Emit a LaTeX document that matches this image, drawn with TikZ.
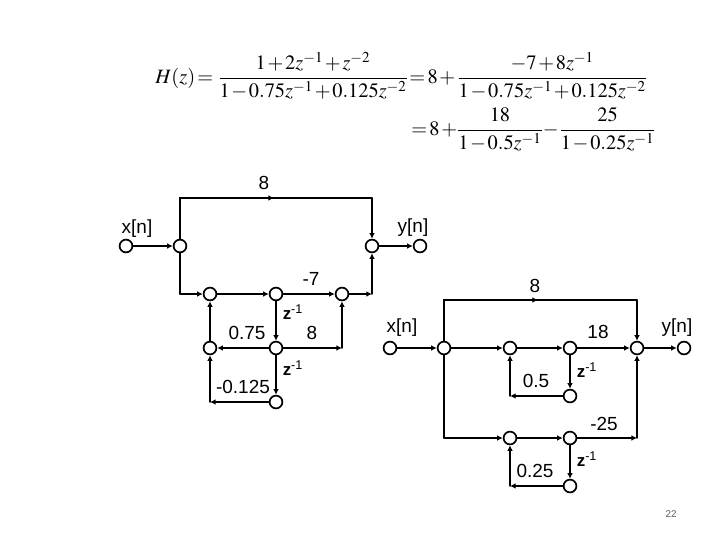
\documentclass[tikz,border=0pt]{standalone}
\usepackage{amsmath,amssymb}
\usepackage{mathptmx}
\usepackage{fontspec}
\setmainfont{Liberation Sans}
\usetikzlibrary{arrows.meta, positioning, calc}
\definecolor{pagenum}{RGB}{90,90,90}
\tikzset{
  sig/.style={circle, draw=black, line width=1.2pt, fill=white, minimum size=0.32cm, inner sep=0pt},
  lbl/.style={inner sep=0pt, yshift=-0.7pt, font=\fontsize{13.5}{15}\selectfont},
  zlbl/.style={inner sep=0pt, font=\fontsize{12}{14}\selectfont},
  eqn/.style={inner sep=0pt, anchor=west, font=\fontsize{14.5}{16}\selectfont},
  flow/.style={line width=1pt, line cap=round, -{Latex[length=4pt,width=4pt]}},
  wire/.style={line width=1pt, line cap=round}
}
\newcommand{\zinv}{{\bfseries z}\textsuperscript{-1}}
\begin{document}
\begin{tikzpicture}[x=0.025cm, y=-0.025cm]
    \useasboundingbox (0,0) rectangle (720,540);
    % equation
    \medmuskip=1.5mu \thickmuskip=2mu
    \node[eqn] (eqa) at (155,75.5)
      {$\displaystyle H(z)=\mkern2mu\frac{1+2z^{-1}+z^{-2}}{1-0.75z^{-1}+0.125z^{-2}}\mkern-1mu=8+\frac{-7+8z^{-1}}{1-0.75z^{-1}+0.125z^{-2}}$};
    \node[eqn] (eqb) at (411,129)
      {$\displaystyle =8+\!\frac{18}{1-0.5z^{-1}}\!-\mkern-1mu\frac{25}{1-0.25z^{-1}}$};
    % left graph
    \node[sig] (xl) at (126,246) {};
    \node[sig] (al) at (180,246) {};
    \node[sig] (yl) at (372,246) {};
    \node[sig] (ol) at (420,246) {};
    \node[sig] (bl) at (210,294) {};
    \node[sig] (cl) at (276,294) {};
    \node[sig] (dl) at (342,294) {};
    \node[sig] (el) at (210,348) {};
    \node[sig] (fl) at (276,348) {};
    \node[sig] (gl) at (276,402) {};
    \coordinate (tla) at (180,198);
    \coordinate (tlb) at (372,198);
    \coordinate (tlm) at (274,198);
    \coordinate (bla) at (180,294);
    \coordinate (blb) at (372,294);
    \coordinate (clb) at (342,348);
    \coordinate (gla) at (210,402);
    \draw[flow] (xl) -- (al);
    \draw[flow] (yl) -- (ol);
    \draw[wire] (al) -- (tla) -- (tlb);
    \draw[flow] (tla) -- (tlm);
    \draw[flow] (tlb) -- (yl);
    \draw[wire] (al) -- (bla);
    \draw[flow] (bla) -- (bl);
    \draw[flow] (bl) -- (cl);
    \draw[flow] (cl) -- (dl);
    \draw[flow] (dl) -- (blb);
    \draw[flow] (blb) -- (yl);
    \draw[flow] (cl) -- (fl);
    \draw[flow] (fl) -- (el);
    \draw[flow] (el) -- (bl);
    \draw[flow] (fl) -- (clb);
    \draw[flow] (clb) -- (dl);
    \draw[flow] (fl) -- (gl);
    \draw[flow] (gl) -- (gla);
    \draw[flow] (gla) -- (el);
    \node[lbl] at (264,182) {8};
    \node[lbl] at (137,228) {x[n]};
    \node[lbl] at (413,227) {y[n]};
    \node[lbl] at (311,278) {-7};
    \node[lbl] at (247,332) {0.75};
    \node[lbl] at (312,332) {8};
    \node[lbl] at (243,386) {-0.125};
    \node[zlbl] at (293,312) {\zinv};
    \node[zlbl] at (293,368) {\zinv};
    % right graph
    \node[sig] (xr) at (390,348) {};
    \node[sig] (ar) at (444,348) {};
    \node[sig] (br) at (510,348) {};
    \node[sig] (cr) at (570,348) {};
    \node[sig] (sr) at (637,348) {};
    \node[sig] (yr) at (684,348) {};
    \node[sig] (dr) at (570,396) {};
    \node[sig] (er) at (510,438) {};
    \node[sig] (fr) at (570,438) {};
    \node[sig] (gr) at (570,486) {};
    \coordinate (tra) at (444,300);
    \coordinate (trb) at (637,300);
    \coordinate (trm) at (538,300);
    \coordinate (lra) at (444,438);
    \coordinate (lrb) at (637,438);
    \coordinate (dra) at (510,396);
    \coordinate (gra) at (510,486);
    \draw[flow] (xr) -- (ar);
    \draw[flow] (ar) -- (br);
    \draw[flow] (br) -- (cr);
    \draw[flow] (cr) -- (sr);
    \draw[flow] (sr) -- (yr);
    \draw[wire] (ar) -- (tra) -- (trb);
    \draw[flow] (tra) -- (trm);
    \draw[flow] (trb) -- (sr);
    \draw[flow] (cr) -- (dr);
    \draw[flow] (dr) -- (dra);
    \draw[flow] (dra) -- (br);
    \draw[wire] (ar) -- (lra);
    \draw[flow] (lra) -- (er);
    \draw[flow] (er) -- (fr);
    \draw[flow] (fr) -- (lrb);
    \draw[flow] (lrb) -- (sr);
    \draw[flow] (fr) -- (gr);
    \draw[flow] (gr) -- (gra);
    \draw[flow] (gra) -- (er);
    \node[lbl] at (535,285) {8};
    \node[lbl] at (402,327) {x[n]};
    \node[lbl] at (677,327) {y[n]};
    \node[lbl] at (598,331) {18};
    \node[lbl] at (536,380) {0.5};
    \node[lbl] at (604,423) {-25};
    \node[lbl] at (535,470) {0.25};
    \node[zlbl] at (587,370) {\zinv};
    \node[zlbl] at (587,459) {\zinv};
    \node[inner sep=0pt, font=\fontsize{7}{8}\selectfont, text=pagenum] (pg) at (671,514) {22};
\end{tikzpicture}
\end{document}
